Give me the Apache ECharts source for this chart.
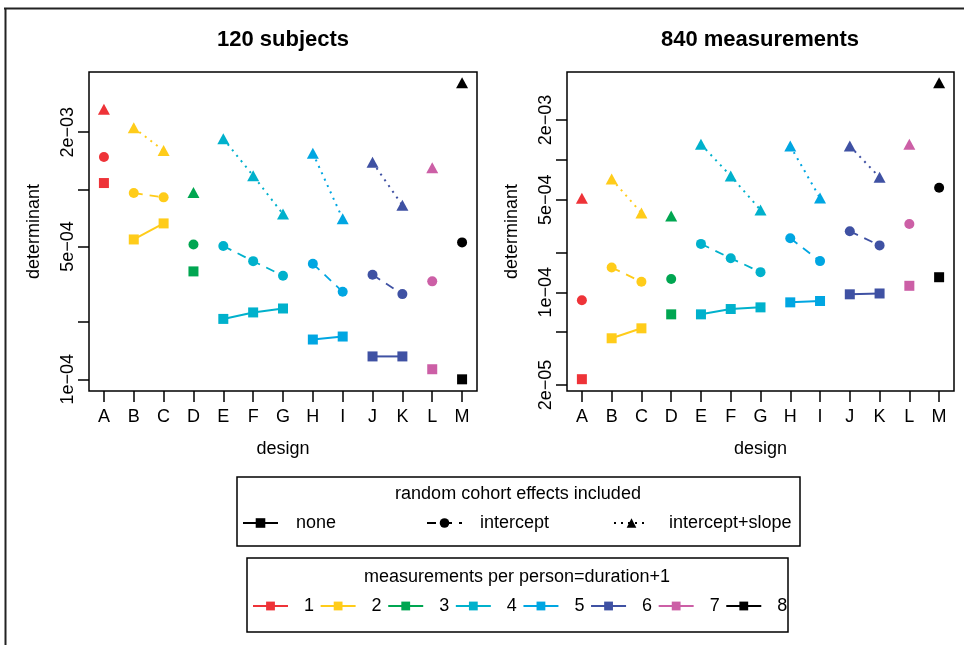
<!DOCTYPE html>
<html>
<head>
<meta charset="utf-8">
<title>determinant by design</title>
<script src="https://cdn.jsdelivr.net/npm/echarts@6/dist/echarts.min.js"></script>
<style>
  html, body { margin: 0; padding: 0; background: #fff; }
  #chart { width: 964px; height: 645px; }
</style>
</head>
<body>
<div id="chart"></div>
<script>
// designs A..M and which "measurements per person" group each belongs to
const categories = ['A', 'B', 'C', 'D', 'E', 'F', 'G', 'H', 'I', 'J', 'K', 'L', 'M'];
const groupOf = [1, 2, 2, 3, 4, 4, 4, 5, 5, 6, 6, 7, 8];
const groupNames = ['1', '2', '3', '4', '5', '6', '7', '8'];
const groupColors = ['#ee3338', '#ffcc1a', '#00a651', '#00b1cc', '#00a6e2', '#3f51a3', '#cc5fa6', '#000000'];

// left panel: 120 subjects
const subjNone = [1.08e-3, 5.45e-4, 6.62e-4, 3.70e-4, 2.08e-4, 2.25e-4, 2.36e-4, 1.62e-4, 1.68e-4, 1.32e-4, 1.32e-4, 1.13e-4, 1.0e-4];
const subjIntercept = [1.48e-3, 9.57e-4, 9.08e-4, 5.13e-4, 5.03e-4, 4.19e-4, 3.51e-4, 4.06e-4, 2.89e-4, 3.55e-4, 2.81e-4, 3.28e-4, 5.26e-4];
const subjSlope = [2.64e-3, 2.11e-3, 1.60e-3, 9.64e-4, 1.85e-3, 1.18e-3, 7.41e-4, 1.55e-3, 7.0e-4, 1.39e-3, 8.24e-4, 1.30e-3, 3.64e-3];

// right panel: 840 measurements
const measNone = [2.21e-5, 4.5e-5, 5.35e-5, 6.82e-5, 6.82e-5, 7.48e-5, 7.7e-5, 8.4e-5, 8.6e-5, 9.66e-5, 9.8e-5, 1.12e-4, 1.30e-4];
const measIntercept = [8.7e-5, 1.54e-4, 1.20e-4, 1.26e-4, 2.32e-4, 1.81e-4, 1.42e-4, 2.56e-4, 1.72e-4, 2.89e-4, 2.26e-4, 3.28e-4, 6.16e-4];
const measSlope = [5.12e-4, 7.16e-4, 3.97e-4, 3.77e-4, 1.31e-3, 7.55e-4, 4.18e-4, 1.27e-3, 5.15e-4, 1.27e-3, 7.38e-4, 1.31e-3, 3.82e-3];

// y ticks
const subjTicks = [1e-4, 2e-4, 5e-4, 1e-3, 2e-3];
const subjLabels = [1e-4, 5e-4, 2e-3];
const measTicks = [2e-5, 5e-5, 1e-4, 2e-4, 5e-4, 1e-3, 2e-3];
const measLabels = [2e-5, 1e-4, 5e-4, 2e-3];

const effectNames = ['none', 'intercept', 'intercept+slope'];

const FONT = 'Liberation Sans, Arial, sans-serif';
const FS = 18;

// one style per random-effect type
const effectStyle = [
  { symbol: 'rect', symbolSize: 10, lineStyle: { width: 2, type: 'solid' } },
  { symbol: 'circle', symbolSize: 10, lineStyle: { width: 1.8, type: [9, 7] } },
  { symbol: 'triangle', symbolSize: [12, 11], lineStyle: { width: 2, type: [2, 5] } },
];

// R style 1e-04 labels
function sci(v) {
  const parts = v.toExponential(0).split('e');
  const n = parseInt(parts[1], 10);
  return parts[0] + 'e' + (n < 0 ? '\u2212' : '+') + String(Math.abs(n)).padStart(2, '0');
}

const panels = [
  { values: [subjNone, subjIntercept, subjSlope], min: 8.68e-5, max: 4.15e-3, ticks: subjTicks, labels: subjLabels, left: 89, width: 388 },
  { values: [measNone, measIntercept, measSlope], min: 1.80e-5, max: 4.6e-3, ticks: measTicks, labels: measLabels, left: 567, width: 387 },
];

const grids = [], xAxes = [], yAxes = [], series = [];

panels.forEach((p, pi) => {
  grids.push({
    left: p.left, top: 72, width: p.width, height: 319,
    show: true, borderColor: '#000', borderWidth: 1.5, backgroundColor: 'transparent',
    containLabel: false, outerBoundsMode: 'none',
  });
  xAxes.push({
    type: 'category', gridIndex: pi, data: categories, boundaryGap: true,
    name: 'design', nameLocation: 'middle', nameGap: 49,
    nameTextStyle: { fontFamily: FONT, fontSize: FS, color: '#000' },
    axisLine: { show: false },
    axisTick: { show: true, alignWithLabel: true, length: 11, lineStyle: { color: '#000', width: 1.5 } },
    axisLabel: { fontFamily: FONT, fontSize: FS, color: '#000', margin: 17, interval: 0 },
    splitLine: { show: false },
  });
  yAxes.push({
    type: 'log', logBase: 10, gridIndex: pi, min: p.min, max: p.max,
    name: 'determinant', nameLocation: 'middle', nameRotate: 90, nameGap: 46,
    nameTextStyle: { fontFamily: FONT, fontSize: FS, color: '#000' },
    axisLine: { show: false },
    axisTick: { show: true, length: 11, customValues: p.ticks, lineStyle: { color: '#000', width: 1.5 } },
    axisLabel: { fontFamily: FONT, fontSize: FS, color: '#000', margin: 12, rotate: 90, customValues: p.labels, formatter: sci },
    splitLine: { show: false },
    minorTick: { show: false },
  });
  p.values.forEach((vals, ei) => {
    const st = effectStyle[ei];
    groupNames.forEach((g, gi) => {
      const data = [];
      categories.forEach((c, i) => { if (groupOf[i] === gi + 1) data.push([c, vals[i]]); });
      series.push({
        type: 'line', xAxisIndex: pi, yAxisIndex: pi,
        data: data,
        symbol: st.symbol, symbolSize: st.symbolSize,
        itemStyle: { color: groupColors[gi] },
        lineStyle: Object.assign({ color: groupColors[gi] }, st.lineStyle),
        silent: true, animation: false,
      });
    });
  });
});

// empty series only used for the legend keys
effectNames.forEach((n, ei) => {
  const st = effectStyle[ei];
  series.push({
    name: n, type: 'line', xAxisIndex: 0, yAxisIndex: 0, data: [],
    symbol: st.symbol, itemStyle: { color: '#000' },
    lineStyle: Object.assign({ color: '#000' }, st.lineStyle, { width: 1.6 }),
  });
});
groupNames.forEach((n, gi) => {
  series.push({
    name: n, type: 'line', xAxisIndex: 0, yAxisIndex: 0, data: [],
    symbol: 'rect', itemStyle: { color: groupColors[gi] },
    lineStyle: { color: groupColors[gi], width: 1.8 },
  });
});

function legendAt(names, left, cy, opts) {
  return Object.assign({
    data: names, left: left, top: cy - 10, orient: 'horizontal', padding: 0,
    selectedMode: false, itemWidth: 35, itemHeight: 12, itemGap: 6,
    textStyle: { fontFamily: FONT, fontSize: FS, color: '#000', lineHeight: 20, padding: [0, 0, 0, 13] },
  }, opts || {});
}

const legends = [
  legendAt(['none'], 242, 523),
  legendAt(['intercept'], 426, 523),
  legendAt(['intercept+slope'], 613, 523, { textStyle: { fontFamily: FONT, fontSize: FS, color: '#000', lineHeight: 20, padding: [0, 0, 0, 15] } }),
  legendAt(groupNames, 252, 606, { itemHeight: 11, itemGap: 5.6, textStyle: { fontFamily: FONT, fontSize: FS, color: '#000', lineHeight: 20, padding: [0, 0, 0, 11] } }),
];

const txt = (x, y, s, bold) => ({
  type: 'text', x: x, y: y, silent: true,
  style: { text: s, fontFamily: FONT, fontSize: bold ? 22 : FS, fontWeight: bold ? 'bold' : 'normal', fill: '#000', align: 'center', verticalAlign: 'middle' },
});

const graphic = [
  { type: 'line', shape: { x1: 4, y1: 8.5, x2: 964, y2: 8.5 }, style: { stroke: '#222', lineWidth: 2 } },
  { type: 'line', shape: { x1: 5.5, y1: 8, x2: 5.5, y2: 645 }, style: { stroke: '#222', lineWidth: 2 } },
  txt(283, 40, '120 subjects', true),
  txt(760, 40, '840 measurements', true),
  { type: 'rect', shape: { x: 237, y: 477, width: 563, height: 69 }, style: { fill: 'none', stroke: '#000', lineWidth: 1.5 } },
  txt(518, 494, 'random cohort effects included'),
  { type: 'rect', shape: { x: 247, y: 558, width: 541, height: 74 }, style: { fill: 'none', stroke: '#000', lineWidth: 1.5 } },
  txt(517, 577, 'measurements per person=duration+1'),
];

const chart = echarts.init(document.getElementById('chart'), null, { renderer: 'canvas' });
chart.setOption({
  animation: false,
  backgroundColor: '#fff',
  grid: grids,
  xAxis: xAxes,
  yAxis: yAxes,
  legend: legends,
  graphic: graphic,
  series: series,
});
</script>
</body>
</html>
